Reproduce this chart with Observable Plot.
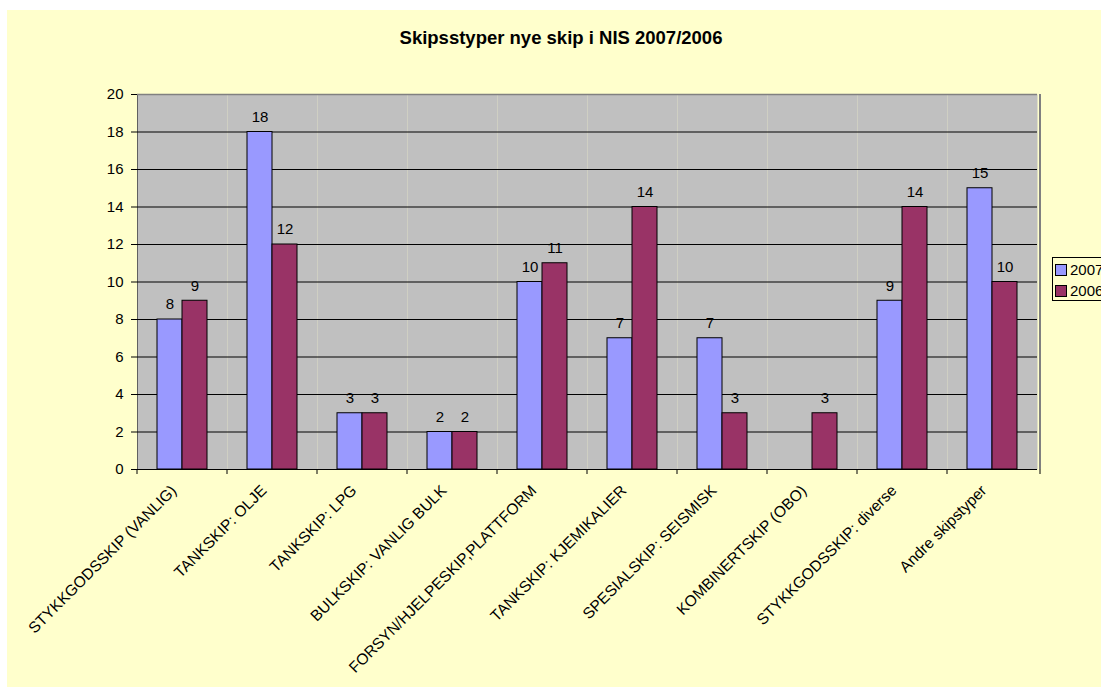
<!DOCTYPE html>
<html>
<head>
<meta charset="utf-8">
<script src="https://cdn.jsdelivr.net/npm/d3@7"></script>
<script src="https://cdn.jsdelivr.net/npm/@observablehq/plot@0.6"></script>
<style>
  html, body { margin: 0; padding: 0; background: #ffffff; }
  body { width: 1101px; height: 687px; overflow: hidden; position: relative; font-family: "Liberation Sans", Arial, sans-serif; }
  #panel { position: absolute; left: 7px; top: 10px; width: 1094px; height: 677px; background: #FFFFCC; }
  #title { position: absolute; left: 554px; top: 19px; transform: translateX(-50%); white-space: nowrap;
           font-weight: bold; font-size: 18.5px; line-height: 18px; color: #000; }
  #chart { position: absolute; left: 0; top: 0; }
  #legend { position: absolute; left: 1045px; top: 247px; width: 80px; height: 44px; border: 1px solid #000;
            background: #FFFFCC; font-size: 15px; color: #000; padding-top: 1px; box-sizing: border-box; }
  .item { display: flex; align-items: center; height: 21px; padding-left: 2px; }
  .sw { width: 10px; height: 10px; border: 1px solid #000; margin-right: 3px; flex: none; }
</style>
</head>
<body>
<div id="panel">
  <div id="title"></div>
  <div id="chart"></div>
  <div id="legend"></div>
</div>
<script>
const titleText = "Skipsstyper nye skip i NIS 2007/2006";
const categories = [
  "STYKKGODSSKIP (VANLIG)",
  "TANKSKIP: OLJE",
  "TANKSKIP: LPG",
  "BULKSKIP: VANLIG BULK",
  "FORSYN/HJELPESKIP,PLATTFORM",
  "TANKSKIP: KJEMIKALIER",
  "SPESIALSKIP: SEISMISK",
  "KOMBINERTSKIP (OBO)",
  "STYKKGODSSKIP: diverse",
  "Andre skipstyper"
];
const values2007 = [8, 18, 3, 2, 10, 7, 7, null, 9, 15];
const values2006 = [9, 12, 3, 2, 11, 14, 3, 3, 14, 10];
const seriesNames = ["2007", "2006"];
const seriesColors = ["#9999FF", "#993366"];
const yTicks = [0, 2, 4, 6, 8, 10, 12, 14, 16, 18, 20];

const rows = categories.flatMap((c, i) => [
  {category: c, series: "2007", value: values2007[i]},
  {category: c, series: "2006", value: values2006[i]}
]);

document.getElementById("title").textContent = titleText;

const chart = Plot.plot({
  width: 1094,
  height: 677,
  marginLeft: 127,
  marginRight: 61,
  marginTop: 84,
  marginBottom: 218,
  style: {background: "transparent", fontSize: "15px", fontFamily: "'Liberation Sans', Arial, sans-serif", color: "#000"},
  facet: {data: rows, x: "category", marginTop: 0, marginBottom: 0, marginLeft: 0, marginRight: 0},
  fx: {domain: categories, padding: 0, axis: null, label: null},
  x: {domain: seriesNames, paddingInner: 0, paddingOuter: 0.742, axis: null, label: null},
  y: {domain: [0, 20], ticks: yTicks, tickSize: 6, tickPadding: 8, line: true, label: null},
  color: {domain: seriesNames, range: seriesColors},
  marks: [
    Plot.frame({fill: "#C0C0C0", stroke: null}),
    Plot.ruleY(yTicks.filter(t => t < 20), {stroke: "#000", strokeWidth: 1}),
    Plot.ruleY([20], {stroke: "#808080", strokeWidth: 1.5}),
    Plot.barY(rows, {x: "series", y: "value", fill: "series", stroke: "#000", strokeWidth: 1}),
    Plot.text(rows, {filter: d => d.value != null, x: "series", y: "value", text: d => String(d.value), dy: -15, fontSize: 15, fill: "#000"}),
    Plot.text(rows, {filter: d => d.series === "2007", text: "category", frameAnchor: "bottom", rotate: -45, textAnchor: "end", dx: -5, dy: 22, fontSize: 15.5, fill: "#000"})
  ]
});
document.getElementById("chart").appendChild(chart);

// category boundary ticks and right border, placed with Plot's own scales
const fx = chart.scale("fx");
const y = chart.scale("y");
const svg = d3.select(chart);
const y0 = y.apply(0), yTop = y.apply(20);
const bounds = categories.map(c => fx.apply(c)).concat([fx.range[1]]);
const g = svg.append("g");
g.selectAll("line.bt").data(bounds).join("line")
  .attr("x1", d => d).attr("x2", d => d).attr("y1", y0).attr("y2", y0 + 5)
  .attr("stroke", "#000");
g.append("line").attr("x1", fx.range[1]).attr("x2", fx.range[1]).attr("y1", yTop).attr("y2", y0)
  .attr("stroke", "#808080").attr("stroke-width", 2);

// legend
const legend = d3.select("#legend");
seriesNames.forEach((s, i) => {
  const it = legend.append("div").attr("class", "item");
  it.append("div").attr("class", "sw").style("background", seriesColors[i]);
  it.append("span").text(s);
});
</script>
</body>
</html>
